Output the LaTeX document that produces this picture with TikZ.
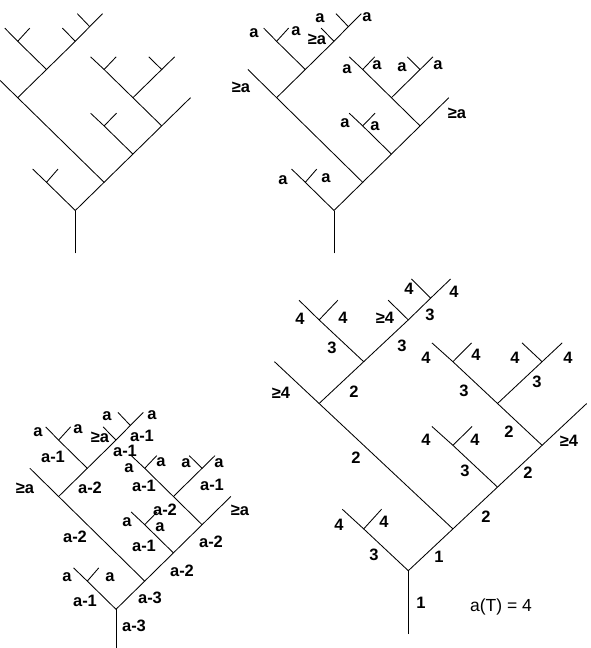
\documentclass[tikz,border=0pt]{standalone}
\usepackage{fontspec}
\setmainfont{Liberation Sans}
\tikzset{
  edge/.style={line width=0.85pt},
  lbl/.style={font=\bfseries\fontsize{16.5}{17}\selectfont, inner sep=0pt},
  res/.style={font=\fontsize{17.5}{18}\selectfont, inner sep=0pt},
}
% #1 prefix, #2 root x, #3 root y (pixels), #4 unit x, #5 unit y (pt)
\newcommand\buildtree[5]{%
  \begin{scope}[shift={(#2,#3)}, x=#4pt, y=#5pt]
    \coordinate (#1r) at (0,0);
    \coordinate (#1s) at (0,-1.52);
    \coordinate (#1A) at (-1,1);
    \coordinate (#1Al) at (-1.48,1.47);
    \coordinate (#1Ar) at (-0.6,1.47);
    \coordinate (#1B) at (1,1);
    \coordinate (#1C) at (-2,4);
    \coordinate (#1CL) at (-3,5);
    \coordinate (#1D) at (-1,5);
    \coordinate (#1E) at (-2,6);
    \coordinate (#1El) at (-2.45,6.47);
    \coordinate (#1Er) at (-1.58,6.47);
    \coordinate (#1F) at (0,6);
    \coordinate (#1FL) at (-0.45,6.47);
    \coordinate (#1G) at (0.5,6.52);
    \coordinate (#1Gl) at (0.07,6.98);
    \coordinate (#1Gr) at (0.95,6.98);
    \coordinate (#1H) at (2,2);
    \coordinate (#1I) at (1,3);
    \coordinate (#1Il) at (0.53,3.45);
    \coordinate (#1Ir) at (1.43,3.45);
    \coordinate (#1J) at (3,3);
    \coordinate (#1JR) at (4,4);
    \coordinate (#1K) at (2,4);
    \coordinate (#1M) at (1,5);
    \coordinate (#1Ml) at (0.53,5.45);
    \coordinate (#1Mr) at (1.42,5.45);
    \coordinate (#1N) at (3,5);
    \coordinate (#1Nl) at (2.55,5.45);
    \coordinate (#1Nr) at (3.45,5.45);
  \end{scope}
  \draw[edge] (#1s) -- (#1r);
  \draw[edge] (#1Al) -- (#1A) -- (#1r) -- (#1B) -- (#1C) -- (#1CL);
  \draw[edge] (#1A) -- (#1Ar);
  \draw[edge] (#1C) -- (#1D) -- (#1E) -- (#1El);
  \draw[edge] (#1E) -- (#1Er);
  \draw[edge] (#1D) -- (#1F) -- (#1G) -- (#1Gr);
  \draw[edge] (#1F) -- (#1FL);
  \draw[edge] (#1G) -- (#1Gl);
  \draw[edge] (#1B) -- (#1H) -- (#1J) -- (#1JR);
  \draw[edge] (#1H) -- (#1I) -- (#1Il);
  \draw[edge] (#1I) -- (#1Ir);
  \draw[edge] (#1J) -- (#1K) -- (#1M) -- (#1Ml);
  \draw[edge] (#1M) -- (#1Mr);
  \draw[edge] (#1K) -- (#1N) -- (#1Nl);
  \draw[edge] (#1N) -- (#1Nr);
}
\begin{document}
\begin{tikzpicture}[x=1pt,y=-1pt]
\useasboundingbox (0,0) rectangle (590,648);
\fill[white] (0,0) rectangle (590,648);
\clip (0,0) rectangle (590,648);

% top-left tree
\buildtree{tl}{75.3}{210.5}{28.8}{28.2}
% top-right tree
\buildtree{tr}{334}{210.5}{28.7}{28.2}
% bottom-left tree
\buildtree{bl}{116}{609.3}{28.7}{28.2}
% bottom-right tree
\buildtree{br}{408.3}{570.7}{44.6}{41.8}

% labels, top-right tree
\node[lbl] (t1) at (254,33) {a};
\node[lbl] (t2) at (296,31) {a};
\node[lbl] (t3) at (320,18) {a};
\node[lbl] (t4) at (367,17) {a};
\node[lbl] (t5) at (317,39) {≥a};
\node[lbl] (t6) at (241,87) {≥a};
\node[lbl] (t7) at (347,69) {a};
\node[lbl] (t8) at (377,65) {a};
\node[lbl] (t9) at (402,67) {a};
\node[lbl] (t10) at (438,65) {a};
\node[lbl] (t11) at (457,113) {≥a};
\node[lbl] (t12) at (345,123) {a};
\node[lbl] (t13) at (375,126) {a};
\node[lbl] (t14) at (283,180) {a};
\node[lbl] (t15) at (326,178) {a};

% labels, bottom-left tree
\node[lbl] (b1) at (38,432) {a};
\node[lbl] (b2) at (78,429) {a};
\node[lbl] (b3) at (107,416) {a};
\node[lbl] (b4) at (152,415) {a};
\node[lbl] (b5) at (100,437) {≥a};
\node[lbl] (b6) at (142,436) {a-1};
\node[lbl] (b7) at (53,457) {a-1};
\node[lbl] (b8) at (125,451) {a-1};
\node[lbl] (b9) at (129,468) {a};
\node[lbl] (b10) at (161,462) {a};
\node[lbl] (b11) at (186,463) {a};
\node[lbl] (b12) at (219,463) {a};
\node[lbl] (b13) at (25,488) {≥a};
\node[lbl] (b14) at (90,488) {a-2};
\node[lbl] (b15) at (144,486) {a-1};
\node[lbl] (b16) at (212,485) {a-1};
\node[lbl] (b17) at (165,510) {a-2};
\node[lbl] (b18) at (240,510) {≥a};
\node[lbl] (b19) at (127,522) {a};
\node[lbl] (b20) at (160,527) {a};
\node[lbl] (b21) at (75,537) {a-2};
\node[lbl] (b22) at (144,546) {a-1};
\node[lbl] (b23) at (211,542) {a-2};
\node[lbl] (b24) at (182,571) {a-2};
\node[lbl] (b25) at (67,577) {a};
\node[lbl] (b26) at (110,577) {a};
\node[lbl] (b27) at (85,601) {a-1};
\node[lbl] (b28) at (150,598) {a-3};
\node[lbl] (b29) at (134,626) {a-3};

% labels, bottom-right tree
\node[lbl] (r1) at (409,289) {4};
\node[lbl] (r2) at (454,292) {4};
\node[lbl] (r3) at (300,319) {4};
\node[lbl] (r4) at (343,318) {4};
\node[lbl] (r5) at (385,318) {≥4};
\node[lbl] (r6) at (430,315) {3};
\node[lbl] (r7) at (332,348) {3};
\node[lbl] (r8) at (402,346) {3};
\node[lbl] (r9) at (426,358) {4};
\node[lbl] (r10) at (476,355) {4};
\node[lbl] (r11) at (515,358) {4};
\node[lbl] (r12) at (568,358) {4};
\node[lbl] (r13) at (281,393) {≥4};
\node[lbl] (r14) at (354,392) {2};
\node[lbl] (r15) at (464,391) {3};
\node[lbl] (r16) at (537,382) {3};
\node[lbl] (r17) at (426,440) {4};
\node[lbl] (r18) at (475,440) {4};
\node[lbl] (r19) at (509,432) {2};
\node[lbl] (r20) at (569,441) {≥4};
\node[lbl] (r21) at (356,458) {2};
\node[lbl] (r22) at (465,471) {3};
\node[lbl] (r23) at (528,473) {2};
\node[lbl] (r24) at (339,525) {4};
\node[lbl] (r25) at (384,522) {4};
\node[lbl] (r26) at (374,555) {3};
\node[lbl] (r27) at (439,557) {1};
\node[lbl] (r28) at (486,517) {2};
\node[lbl] (r29) at (421,603) {1};
\node[res] (res) at (501,607) {a(T) = 4};
\end{tikzpicture}
\end{document}
